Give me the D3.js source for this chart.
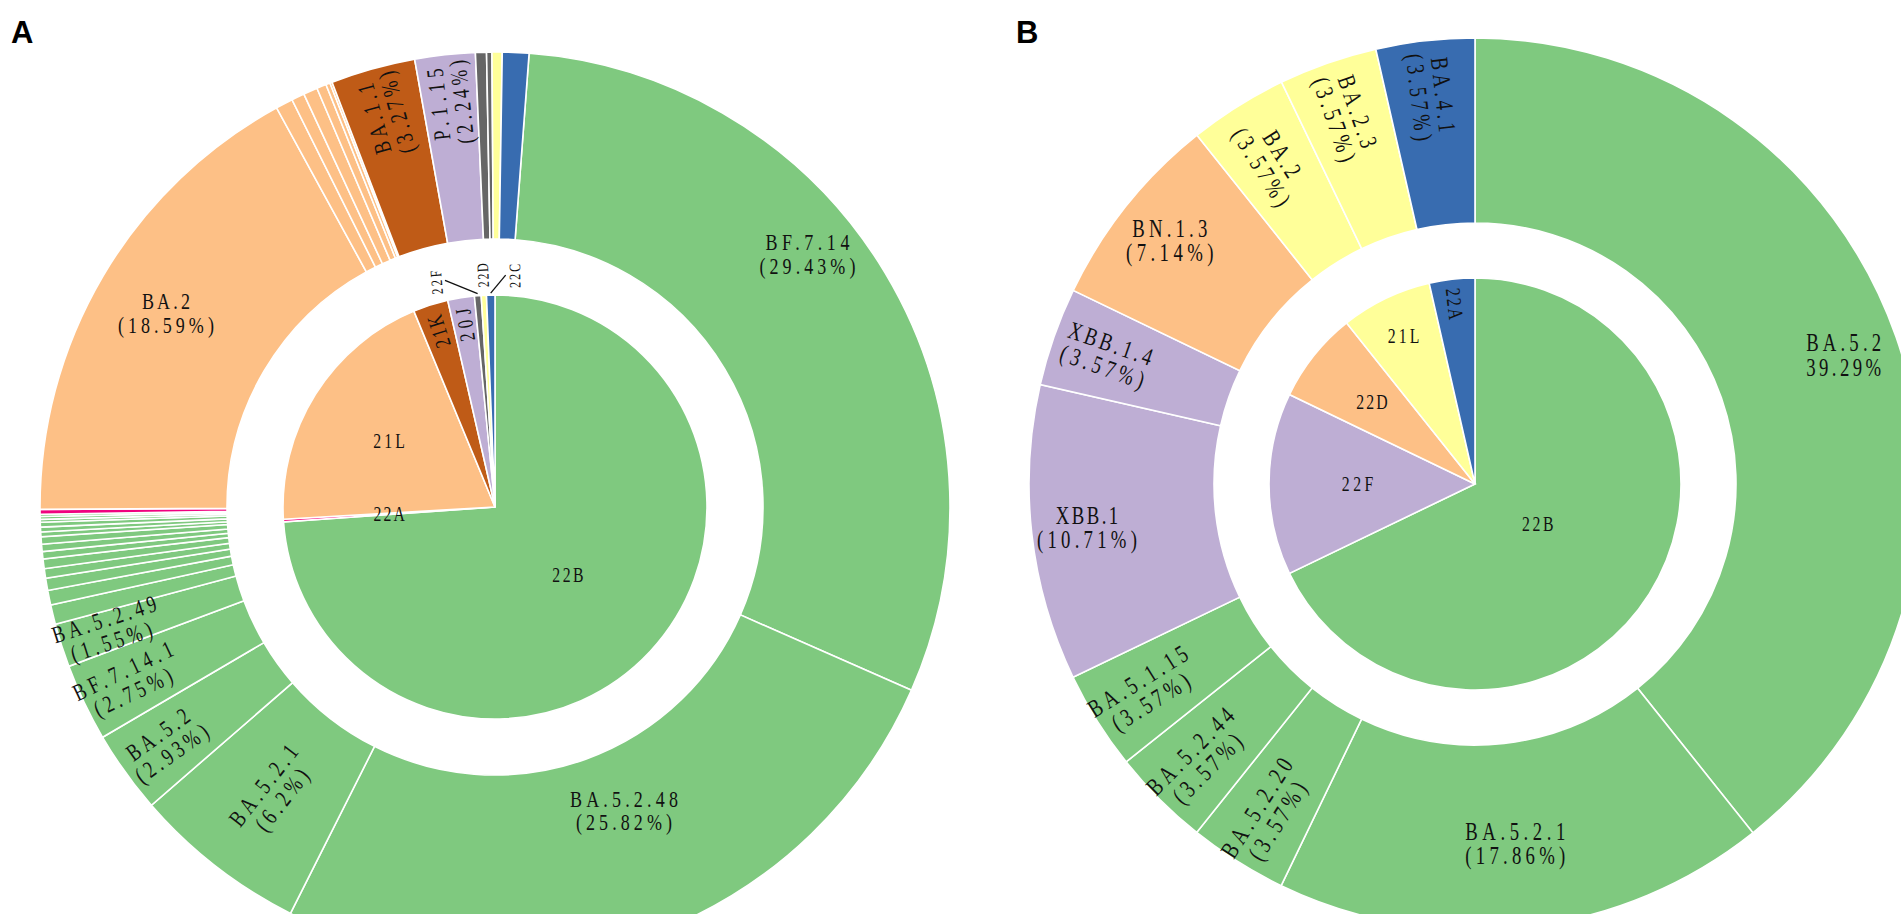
<!DOCTYPE html>
<html>
<head>
<meta charset="utf-8">
<script src="https://cdn.jsdelivr.net/npm/d3@7"></script>
<style>
  body { margin: 0; background: #fff; overflow: hidden; }
</style>
</head>
<body>
<div id="chart"></div>
<script>
// ---------- Panel A data (inner ring = clade, outer ring = lineage) ----------
// slice sizes as drawn (% of the circle)
const aInnerNames  = ["22B", "22A", "21L", "21K", "20J", "22F", "22D", "22C"];
const aInnerValues = [73.9, 0.2, 19.67, 2.67, 2.03, 0.51, 0.4, 0.64];

const aOuterNames = ["BF.7.14", "BA.5.2.48", "BA.5.2.1", "BA.5.2", "BF.7.14.1", "BA.5.2.49",
  "", "", "", "", "", "", "", "", "", "", "", "", "", "",
  "", "BA.2", "", "", "", "", "", "", "BA.1.1", "P.1.15", "", "", "", ""];
const aOuterValues = [30.39, 25.82, 6.2, 2.93, 2.75, 1.55,
  0.69, 0.52, 0.43, 0.34, 0.34, 0.26, 0.26, 0.26, 0.17, 0.17, 0.17, 0.1, 0.1, 0.08,
  0.17, 17.11, 0.61, 0.46, 0.5, 0.34, 0.15, 0.08, 3.0, 2.14, 0.39, 0.19, 0.36, 0.94];
// percentages printed on the labels
const aOuterPct = [29.43, 25.82, 6.2, 2.93, 2.75, 1.55,
  null, null, null, null, null, null, null, null, null, null, null, null, null, null,
  null, 18.59, null, null, null, null, null, null, 3.27, 2.24, null, null, null, null];
const aOuterClades = ["22B", "22B", "22B", "22B", "22B", "22B",
  "22B", "22B", "22B", "22B", "22B", "22B", "22B", "22B", "22B", "22B", "22B", "22B", "22B", "22B",
  "22A", "21L", "21L", "21L", "21L", "21L", "21L", "21L", "21K", "20J", "22F", "22F", "22D", "22C"];
const aCladeOrder = ["22B", "20J", "21L", "22D", "22C", "22A", "21K", "22F"];

// ---------- Panel B data ----------
const bInnerNames  = ["22B", "22F", "22D", "21L", "22A"];
const bInnerValues = [67.86, 14.29, 7.14, 7.14, 3.57];

const bOuterNames  = ["BA.5.2", "BA.5.2.1", "BA.5.2.20", "BA.5.2.44", "BA.5.1.15", "XBB.1",
  "XBB.1.4", "BN.1.3", "BA.2", "BA.2.3", "BA.4.1"];
const bOuterValues = [39.29, 17.86, 3.57, 3.57, 3.57, 10.71, 3.57, 7.14, 3.57, 3.57, 3.57];
const bOuterClades = ["22B", "22B", "22B", "22B", "22B", "22F", "22F", "22D", "21L", "21L", "22A"];
const bCladeOrder = ["22B", "22F", "22D", "21L", "22A"];

// ---------- layout ----------
const width = 1901, height = 914;
const deg = Math.PI / 180;
const squeeze = 0.75;   // narrow glyphs, like the original CJK serif font

// outer labels that sit away from the default spot (radius px, angle deg)
const labelRadius = {"BF.7.14": 402, "BA.5.2.48": 330, "BA.2": 382, "BA.5.2.1": 362};
const labelAngle = {"BF.7.14": 51, "BA.5.2.48": 157};
// distance of panel B inner labels, as a share of the pie radius
const bInnerFrac = {"22B": 0.36, "22F": 0.57, "22D": 0.64, "21L": 0.8, "22A": 0.88};

const svg = d3.select("#chart")
  .append("svg")
  .attr("width", width)
  .attr("height", height)
  .style("background", "#fff");

function polar(r, a) {
  return [r * Math.sin(a), -r * Math.cos(a)];
}

// one text per line, spread to a half-em pitch per character
function label(g, x, y, rot, lines, fs) {
  const lg = g.append("g")
    .attr("transform", `translate(${x},${y}) rotate(${rot}) scale(${squeeze},1)`);
  lines.forEach((line, li) => {
    lg.append("text")
      .attr("x", 0)
      .attr("y", (li - (lines.length - 1) / 2) * fs * 0.98)
      .attr("text-anchor", "middle")
      .attr("dominant-baseline", "central")
      .attr("textLength", Array.from(line).length * fs * 0.5 / squeeze)
      .attr("lengthAdjust", "spacing")
      .style("font-family", "'Liberation Serif', 'Times New Roman', serif")
      .style("font-size", fs + "px")
      .style("fill", "#111")
      .text(line);
  });
}

function ring(g, names, values, clades, color, r0, r1, start) {
  const pie = d3.pie().sort(null).value(d => d.v)
    .startAngle(start).endAngle(start + 2 * Math.PI);
  const arcs = pie(names.map((n, i) => ({name: n, v: values[i], clade: clades[i], i: i})));
  g.selectAll(null)
    .data(arcs)
    .enter()
    .append("path")
    .attr("d", d3.arc().innerRadius(r0).outerRadius(r1))
    .attr("fill", d => color(d.data.clade))
    .attr("stroke", "#fff")
    .attr("stroke-width", 1.6);
  return arcs;
}

function midDeg(d) {
  const m = ((d.startAngle + d.endAngle) / 2) / deg;
  return ((m % 360) + 360) % 360;
}

// radial rotation; A keeps upper-left text reading upward, B turns it inward
function radialRot(m, upward) {
  if (m < 180) return m - 90;
  if (upward && m >= 300) return m - 450;
  return m - 270;
}

// ---------- Panel A ----------
const A = {cx: 495, cy: 507, R: 455, ringIn: 268, pie: 212, start: 4.3 * deg};
const colorA = d3.scaleOrdinal().domain(aCladeOrder).range(d3.schemeAccent);
const gA = svg.append("g").attr("transform", `translate(${A.cx},${A.cy})`);

const aOuter = ring(gA, aOuterNames, aOuterValues, aOuterClades, colorA, A.ringIn, A.R, A.start);
const aInner = ring(gA, aInnerNames, aInnerValues, aInnerNames, colorA, 0, A.pie, 0);

aOuter.filter(d => d.data.name).forEach(d => {
  const n = d.data.name;
  const m = labelAngle[n] !== undefined ? labelAngle[n] : midDeg(d);
  const pct = aOuterPct[d.data.i];
  const r = labelRadius[n] || A.ringIn + 0.74 * (A.R - A.ringIn);
  const [x, y] = polar(r, m * deg);
  const big = pct >= 10;
  label(gA, x, y, big ? 0 : radialRot(m, true), [n, `(${pct}%)`], 24);
});

// tiny inner slices get their label outside with a leader line
const aOutside = ["22F", "22D", "22C"];
const aOutsideShift = [-10, 0, 6];
aInner.forEach(d => {
  const m = midDeg(d);
  const n = d.data.name;
  const k = aOutside.indexOf(n);
  if (k >= 0) {
    const la = (m + aOutsideShift[k]) * deg;
    const [x, y] = polar(A.pie + 20, la);
    label(gA, x, y, radialRot(m, true), [n], 16);
    if (aOutsideShift[k] !== 0) {
      const side = aOutsideShift[k] < 0 ? 1 : -1;
      const tx = Math.cos(la) * 9 * side, ty = Math.sin(la) * 9 * side;
      const [x1, y1] = polar(A.pie + 2, m * deg);
      gA.append("line")
        .attr("x1", x + tx).attr("y1", y + ty)
        .attr("x2", x1).attr("y2", y1)
        .attr("stroke", "#111").attr("stroke-width", 1.3);
    }
  } else if (d.data.v > 1 && d.data.v < 5) {
    const [x, y] = polar(A.pie * 0.87, m * deg);
    label(gA, x, y, radialRot(m, true), [n], 22);
  } else {
    const frac = d.data.v > 50 ? 0.47 : d.data.v > 10 ? 0.59 : 0.5;
    const [x, y] = polar(A.pie * frac, m * deg);
    label(gA, x, y, 0, [n], 21);
  }
});

// ---------- Panel B ----------
const B = {cx: 1475, cy: 484, R: 446, ringIn: 261, pie: 206, start: 0};
const colorB = d3.scaleOrdinal().domain(bCladeOrder).range(d3.schemeAccent);
const gB = svg.append("g").attr("transform", `translate(${B.cx},${B.cy})`);

const bOuter = ring(gB, bOuterNames, bOuterValues, bOuterClades, colorB, B.ringIn, B.R, B.start);
const bInner = ring(gB, bInnerNames, bInnerValues, bInnerNames, colorB, 0, B.pie, 0);

bOuter.forEach((d, i) => {
  const m = midDeg(d);
  const r = labelRadius[d.data.name] || B.ringIn + 0.7 * (B.R - B.ringIn);
  const [x, y] = polar(r, m * deg);
  const big = d.data.v >= 7;
  const pct = i === 0 ? `${d.data.v}%` : `(${d.data.v}%)`;
  label(gB, x, y, big ? 0 : radialRot(m, false), [d.data.name, pct], 25);
});

bInner.forEach(d => {
  const m = midDeg(d);
  const [x, y] = polar(B.pie * bInnerFrac[d.data.name], m * deg);
  label(gB, x, y, d.data.v < 5 ? radialRot(m, false) : 0, [d.data.name], 21);
});

// ---------- panel letters ----------
svg.append("text")
  .attr("x", 11).attr("y", 43)
  .style("font-family", "'Liberation Sans', Arial, sans-serif")
  .style("font-weight", "bold")
  .style("font-size", "31px")
  .text("A");

svg.append("text")
  .attr("x", 1016).attr("y", 43)
  .style("font-family", "'Liberation Sans', Arial, sans-serif")
  .style("font-weight", "bold")
  .style("font-size", "31px")
  .text("B");
</script>
</body>
</html>
